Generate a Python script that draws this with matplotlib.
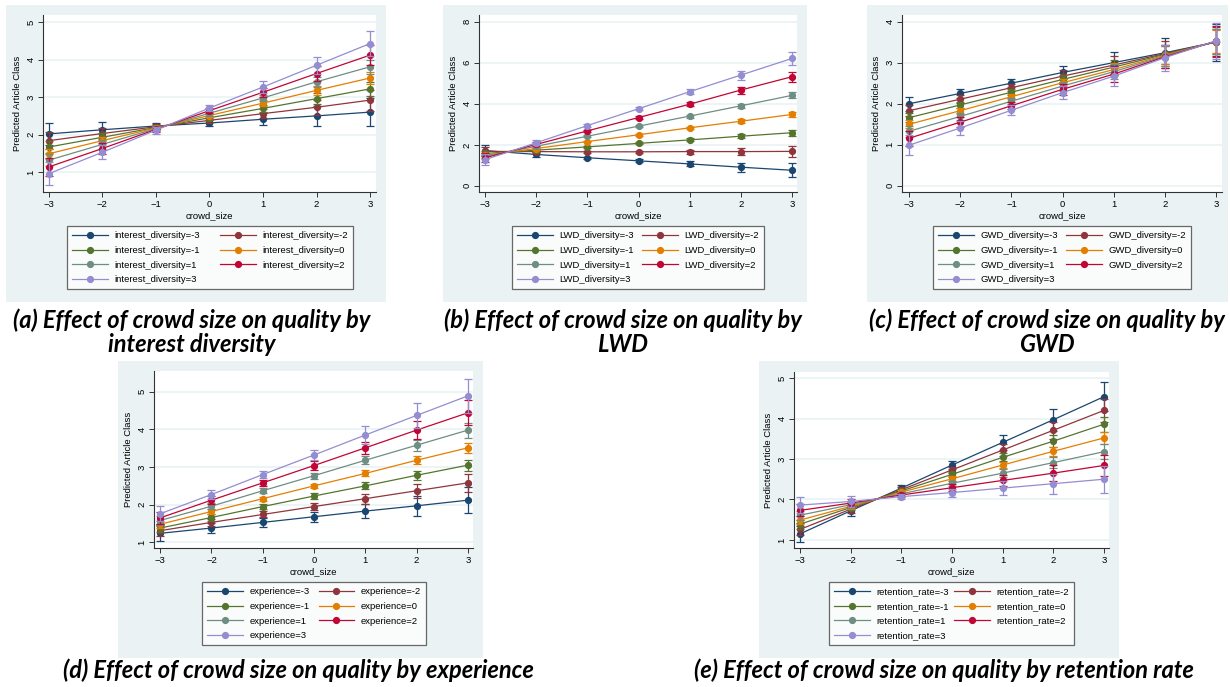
import matplotlib
matplotlib.use('Agg')
import matplotlib.pyplot as plt
from matplotlib.patches import Rectangle
from matplotlib.lines import Line2D

# x values (crowd_size) and the moderator levels
crowd_size = [-3, -2, -1, 0, 1, 2, 3]
levels = [-3, -2, -1, 0, 1, 2, 3]

# Stata s2color palette
colors = ['#1a476f', '#90353b', '#55752f', '#e37e00', '#6e8e84', '#c10534', '#938dd2']

# (a) interest diversity: one row per level, predicted values at each crowd_size
interest_mean = [
    [2.02, 2.13, 2.23, 2.31, 2.41, 2.50, 2.60],
    [1.84, 2.03, 2.21, 2.38, 2.56, 2.73, 2.92],
    [1.67, 1.93, 2.19, 2.45, 2.70, 2.96, 3.22],
    [1.49, 1.84, 2.18, 2.51, 2.84, 3.18, 3.51],
    [1.32, 1.74, 2.16, 2.57, 2.98, 3.41, 3.81],
    [1.14, 1.63, 2.14, 2.64, 3.13, 3.63, 4.12],
    [0.96, 1.53, 2.12, 2.71, 3.27, 3.85, 4.43],
]
interest_ci = [
    [0.29, 0.20, 0.09, 0.09, 0.16, 0.26, 0.37],
    [0.22, 0.15, 0.07, 0.07, 0.12, 0.20, 0.28],
    [0.16, 0.11, 0.06, 0.06, 0.09, 0.14, 0.19],
    [0.14, 0.10, 0.05, 0.05, 0.08, 0.12, 0.15],
    [0.16, 0.11, 0.06, 0.06, 0.09, 0.14, 0.19],
    [0.23, 0.15, 0.07, 0.07, 0.12, 0.19, 0.26],
    [0.30, 0.19, 0.09, 0.09, 0.15, 0.23, 0.33],
]

# (b) LWD diversity
lwd_mean = [
    [1.72, 1.53, 1.37, 1.22, 1.07, 0.91, 0.76],
    [1.68, 1.67, 1.66, 1.66, 1.67, 1.67, 1.68],
    [1.58, 1.74, 1.90, 2.07, 2.24, 2.42, 2.59],
    [1.50, 1.82, 2.16, 2.49, 2.83, 3.15, 3.48],
    [1.44, 1.93, 2.42, 2.91, 3.40, 3.90, 4.41],
    [1.37, 2.02, 2.68, 3.33, 3.98, 4.67, 5.32],
    [1.28, 2.10, 2.94, 3.76, 4.59, 5.40, 6.21],
]
lwd_ci = [
    [0.28, 0.12, 0.06, 0.07, 0.12, 0.22, 0.33],
    [0.20, 0.09, 0.05, 0.06, 0.10, 0.17, 0.25],
    [0.14, 0.07, 0.05, 0.05, 0.07, 0.11, 0.15],
    [0.12, 0.06, 0.04, 0.05, 0.06, 0.09, 0.12],
    [0.14, 0.07, 0.05, 0.05, 0.07, 0.11, 0.15],
    [0.21, 0.10, 0.06, 0.06, 0.10, 0.17, 0.25],
    [0.28, 0.13, 0.07, 0.08, 0.13, 0.22, 0.33],
]

# (c) GWD diversity
gwd_mean = [
    [2.00, 2.25, 2.50, 2.76, 3.00, 3.24, 3.50],
    [1.83, 2.11, 2.39, 2.67, 2.94, 3.22, 3.50],
    [1.66, 1.97, 2.28, 2.59, 2.89, 3.20, 3.51],
    [1.50, 1.83, 2.17, 2.51, 2.83, 3.18, 3.51],
    [1.33, 1.69, 2.06, 2.43, 2.78, 3.16, 3.52],
    [1.16, 1.55, 1.95, 2.35, 2.72, 3.14, 3.52],
    [0.99, 1.41, 1.84, 2.27, 2.67, 3.12, 3.53],
]
gwd_ci = [
    [0.17, 0.11, 0.10, 0.17, 0.27, 0.37, 0.45],
    [0.14, 0.09, 0.08, 0.14, 0.22, 0.30, 0.37],
    [0.11, 0.08, 0.07, 0.11, 0.18, 0.24, 0.30],
    [0.10, 0.07, 0.06, 0.10, 0.16, 0.22, 0.28],
    [0.13, 0.09, 0.07, 0.11, 0.18, 0.24, 0.30],
    [0.18, 0.12, 0.09, 0.13, 0.20, 0.28, 0.36],
    [0.25, 0.17, 0.12, 0.16, 0.23, 0.32, 0.43],
]

# (d) experience
experience_mean = [
    [1.24, 1.38, 1.53, 1.68, 1.83, 1.97, 2.12],
    [1.31, 1.53, 1.74, 1.95, 2.16, 2.37, 2.58],
    [1.38, 1.66, 1.95, 2.23, 2.50, 2.78, 3.05],
    [1.48, 1.82, 2.16, 2.50, 2.83, 3.18, 3.51],
    [1.58, 1.96, 2.37, 2.77, 3.18, 3.58, 3.98],
    [1.65, 2.12, 2.58, 3.04, 3.51, 3.98, 4.44],
    [1.76, 2.27, 2.80, 3.32, 3.85, 4.37, 4.89],
]
experience_ci = [
    [0.20, 0.14, 0.11, 0.13, 0.19, 0.27, 0.35],
    [0.15, 0.10, 0.08, 0.09, 0.13, 0.18, 0.23],
    [0.11, 0.08, 0.06, 0.07, 0.09, 0.12, 0.15],
    [0.10, 0.07, 0.05, 0.06, 0.08, 0.10, 0.13],
    [0.11, 0.08, 0.06, 0.08, 0.11, 0.15, 0.20],
    [0.15, 0.10, 0.08, 0.11, 0.16, 0.24, 0.33],
    [0.20, 0.13, 0.09, 0.14, 0.23, 0.33, 0.45],
]

# (e) retention rate
retention_mean = [
    [1.15, 1.72, 2.28, 2.85, 3.41, 3.97, 4.54],
    [1.26, 1.76, 2.24, 2.73, 3.22, 3.71, 4.20],
    [1.39, 1.80, 2.21, 2.62, 3.04, 3.44, 3.86],
    [1.49, 1.83, 2.18, 2.51, 2.85, 3.19, 3.52],
    [1.61, 1.87, 2.14, 2.40, 2.65, 2.91, 3.18],
    [1.73, 1.91, 2.11, 2.29, 2.47, 2.65, 2.84],
    [1.86, 1.95, 2.07, 2.17, 2.28, 2.39, 2.50],
]
retention_ci = [
    [0.19, 0.12, 0.07, 0.10, 0.18, 0.27, 0.36],
    [0.15, 0.09, 0.06, 0.08, 0.14, 0.21, 0.28],
    [0.11, 0.07, 0.05, 0.06, 0.10, 0.15, 0.19],
    [0.09, 0.06, 0.05, 0.06, 0.08, 0.11, 0.14],
    [0.11, 0.07, 0.05, 0.06, 0.10, 0.14, 0.18],
    [0.15, 0.10, 0.06, 0.08, 0.13, 0.19, 0.25],
    [0.20, 0.13, 0.07, 0.10, 0.17, 0.25, 0.33],
]

W, H = 1230, 687
STATA_FONT = 'Liberation Sans'
SMALL = 6.8
BG = '#eaf2f3'


def fx(px):
    return px / W


def fy(py):
    return 1 - py / H


fig = plt.figure(figsize=(W / 100, H / 100), dpi=100)
fig.patch.set_facecolor('white')


# Draws one Stata-style margins plot with its grey graph region and legend
def draw_panel(region, plot, legend_box, xlim, ylim, yticks, prefix, means, cis):
    x0, y0, x1, y1 = region
    fig.add_artist(Rectangle((fx(x0), fy(y1)), fx(x1) - fx(x0), fy(y0) - fy(y1),
                             transform=fig.transFigure, facecolor=BG, edgecolor='none', zorder=0))

    px0, py0, px1, py1 = plot
    ax = fig.add_axes([fx(px0), fy(py1), fx(px1) - fx(px0), fy(py0) - fy(py1)])
    ax.set_facecolor('white')
    ax.set_xlim(*xlim)
    ax.set_ylim(*ylim)
    ax.set_xticks(crowd_size)
    ax.set_yticks(yticks)
    for yt in yticks:
        ax.axhline(yt, color=BG, lw=1.2, zorder=0)

    handles = []
    for i, lev in enumerate(levels):
        ax.errorbar(crowd_size, means[i], yerr=cis[i], fmt='none', ecolor=colors[i],
                    elinewidth=0.9, capsize=2.6, capthick=0.9, zorder=2 + i)
        ax.plot(crowd_size, means[i], color=colors[i], lw=0.9, marker='o',
                markersize=4.2, zorder=2 + i)
        handles.append(Line2D([], [], color=colors[i], lw=0.9, marker='o', markersize=4.2,
                              label=prefix + '=' + str(lev)))

    for side in ['top', 'right']:
        ax.spines[side].set_visible(False)
    for side in ['left', 'bottom']:
        ax.spines[side].set_color('#333333')
        ax.spines[side].set_linewidth(0.8)
    ax.tick_params(length=3.5, width=0.7, color='#333333', labelsize=SMALL, pad=2)
    ax.tick_params(axis='y', labelrotation=90)
    for lab in ax.get_xticklabels() + ax.get_yticklabels():
        lab.set_family(STATA_FONT)
    for lab in ax.get_yticklabels():
        lab.set_va('center')
    ax.set_xlabel('crowd_size', fontsize=SMALL, family=STATA_FONT, labelpad=2)
    ax.set_ylabel('Predicted Article Class', fontsize=SMALL, family=STATA_FONT, labelpad=3)

    # Stata orders the legend row by row
    order = [0, 2, 4, 6, 1, 3, 5]
    lx0, ly0, lx1 = legend_box
    leg = fig.legend([handles[k] for k in order], [handles[k].get_label() for k in order],
                     ncol=2, loc='upper left', mode='expand',
                     bbox_to_anchor=(fx(lx0), fy(ly0) - 0.2, fx(lx1) - fx(lx0), 0.2),
                     prop={'family': STATA_FONT, 'size': SMALL}, frameon=True, fancybox=False,
                     borderpad=0.55, labelspacing=0.6, handlelength=3.8, handletextpad=0.65,
                     borderaxespad=0)
    leg.get_frame().set_edgecolor('#444444')
    leg.get_frame().set_linewidth(0.9)
    return ax


draw_panel((6, 5, 386, 302), (43, 15, 376, 192), (67, 226, 353),
           (-3.11, 3.11), (0.47, 5.19), [1, 2, 3, 4, 5],
           'interest_diversity', interest_mean, interest_ci)
draw_panel((443, 5, 807, 302), (479, 15, 797, 192), (512, 226, 764),
           (-3.12, 3.1), (-0.3, 8.33), [0, 2, 4, 6, 8],
           'LWD_diversity', lwd_mean, lwd_ci)
draw_panel((867, 5, 1228, 302), (902, 15, 1222, 192), (933, 226, 1191),
           (-3.14, 3.12), (-0.15, 4.16), [0, 1, 2, 3, 4],
           'GWD_diversity', gwd_mean, gwd_ci)
draw_panel((118, 361, 483, 658), (154, 371, 473, 548), (202, 582, 426),
           (-3.12, 3.1), (0.85, 5.55), [1, 2, 3, 4, 5],
           'experience', experience_mean, experience_ci)
draw_panel((759, 361, 1119, 658), (794, 372, 1109, 548), (829, 582, 1074),
           (-3.12, 3.1), (0.8, 5.15), [1, 2, 3, 4, 5],
           'retention_rate', retention_mean, retention_ci)

# Captions under each panel
cap_style = dict(family=['Lato', 'DejaVu Sans'], weight='bold', style='italic',
                 fontsize=17, ha='center', va='center', color='black')
fig.text(fx(192), fy(320), '(a) Effect of crowd size on quality by', **cap_style)
fig.text(fx(192), fy(345), 'interest diversity', **cap_style)
fig.text(fx(623), fy(320), '(b) Effect of crowd size on quality by', **cap_style)
fig.text(fx(623), fy(345), 'LWD', **cap_style)
fig.text(fx(1047), fy(320), '(c) Effect of crowd size on quality by', **cap_style)
fig.text(fx(1047), fy(345), 'GWD', **cap_style)
fig.text(fx(298), fy(670), '(d) Effect of crowd size on quality by experience', **cap_style)
fig.text(fx(944), fy(670), '(e) Effect of crowd size on quality by retention rate', **cap_style)

fig.savefig('out.png', dpi=100)
